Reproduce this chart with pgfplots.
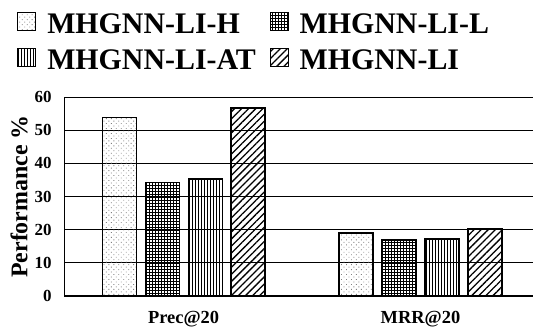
\documentclass[border=0pt]{standalone}
\usepackage{pgfplots}
\pgfplotsset{compat=1.18}
\usepackage{fontspec}
\setmainfont{Liberation Serif}
\usetikzlibrary{patterns,patterns.meta}
\begin{document}
\begin{tikzpicture}
\begin{axis}[
  scale only axis,
  width=469bp, height=199bp,
  xmin=-0.505, xmax=1.475,
  ymin=0, ymax=60,
  ytick={0,10,20,30,40,50,60},
  xtick={0,1},
  xticklabels={Prec@20,MRR@20},
  major tick length=0pt,
  axis x line*=bottom,
  axis y line*=left,
  axis line style={line width=1pt},
  ymajorgrids,
  grid style={black, line width=0.9pt},
  /pgf/number format/assume math mode=true,
  yticklabel style={font=\fontsize{17}{18}\selectfont\bfseries, xshift=-9bp},
  xticklabel style={font=\fontsize{18.5}{20}\selectfont\bfseries, yshift=-12bp},
  ylabel={\textbf{Performance \%}},
  ylabel style={font=\fontsize{24}{26}\selectfont, yshift=0bp},
  bar width=0.1435,
  legend columns=2,
  legend cell align=left,
  legend style={draw=none, fill=none, at={(-0.106,1.44)}, anchor=north west,
    font=\fontsize{30}{32}\selectfont\bfseries,
    /tikz/every odd column/.append style={column sep=9bp},
    /tikz/every even column/.append style={column sep=12bp},
    row sep=11bp},
  legend image code/.code={\draw[#1, line width=0.8pt] (0bp,-6bp) rectangle (18bp,12bp);},
]
\addplot[ybar, bar shift=-0.272, draw=black, line width=1.2pt, pattern={Dots[distance=3.5bp,radius=0.6bp,angle=45]}, pattern color=gray] coordinates {(0,53.7) (1,19.0)};
\addplot[ybar, bar shift=-0.0907, draw=black, line width=1.2pt, pattern=grid, pattern color=black] coordinates {(0,34.1) (1,16.9)};
\addplot[ybar, bar shift=0.0907, draw=black, line width=1.2pt, pattern={Lines[angle=90,distance=3bp,line width=0.6pt]}, pattern color=black] coordinates {(0,35.3) (1,17.2)};
\addplot[ybar, bar shift=0.272, draw=black, line width=1.2pt, pattern={Lines[angle=45,distance=5bp,line width=1.3pt]}, pattern color=black] coordinates {(0,56.7) (1,20.2)};
\legend{MHGNN-LI-H,MHGNN-LI-L,MHGNN-LI-AT,MHGNN-LI}
\end{axis}
\pgfresetboundingbox
\path ([shift={(-64bp,-33bp)}]current axis.south west) rectangle ([shift={(1bp,97bp)}]current axis.north east);
\end{tikzpicture}
\end{document}
